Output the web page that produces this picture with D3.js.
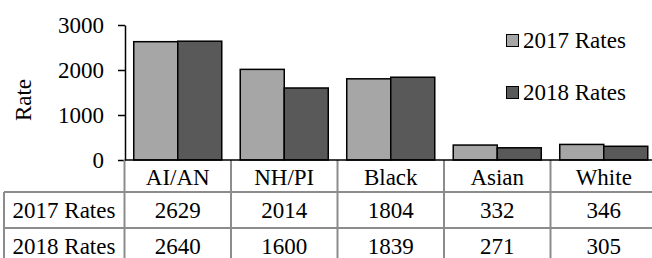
<!DOCTYPE html>
<html lang="en">
<head>
<meta charset="UTF-8">
<title>Rates 2017 vs 2018</title>
<script src="https://d3js.org/d3.v7.min.js"></script>
</head>
<body style="margin:0; background:white">
<svg width="652" height="258"></svg>
<script>
var categories = ["AI/AN", "NH/PI", "Black", "Asian", "White"];
var seriesNames = ["2017 Rates", "2018 Rates"];
var rates2017 = [2629, 2014, 1804, 332, 346];
var rates2018 = [2640, 1600, 1839, 271, 305];
var yTicks = [0, 1000, 2000, 3000];
var seriesColors = ["#a6a6a6", "#595959"];

var allRates = [rates2017, rates2018];
var svg = d3.select("svg");

function serif(sel) {
    return sel.style("font-family", "'Liberation Serif'").style("font-size", "23px").attr("fill", "#000");
}

var x = d3.scaleBand().domain(categories).range([124.5, 657]).padding(0);
var xs = d3.scaleBand().domain(seriesNames).range([0, x.bandwidth()]).paddingInner(0).paddingOuter(0.21);
var y = d3.scaleLinear().domain([0, 3000]).range([160, 25]);

// bars
seriesNames.forEach(function(s, si) {
    svg.append("g").selectAll("rect")
        .data(allRates[si])
        .enter().append("rect")
        .attr("x", function(d, i) { return x(categories[i]) + xs(s); })
        .attr("y", function(d) { return y(d); })
        .attr("width", xs.bandwidth())
        .attr("height", function(d) { return y(0) - y(d); })
        .attr("fill", seriesColors[si])
        .attr("stroke", "#000")
        .attr("stroke-width", 1.5);
});

// y axis
var yAxis = svg.append("g")
    .attr("transform", "translate(125,0)")
    .call(d3.axisLeft(y).tickValues(yTicks).tickSize(7).tickSizeOuter(0).tickPadding(14).tickFormat(d3.format("d")));
yAxis.select(".domain").attr("stroke", "#000").attr("stroke-width", 1.5);
yAxis.selectAll(".tick line").attr("stroke", "#000").attr("stroke-width", 1.5);
serif(yAxis.selectAll("text")).attr("dy", "0.34em");

serif(svg.append("text"))
    .attr("transform", "translate(31,100) rotate(-90)")
    .attr("text-anchor", "middle")
    .text("Rate");

// table
var tableColor = "#8c8c8c";
var rowTops = [160, 192, 228, 264];
var table = svg.append("g");
categories.concat([null]).forEach(function(c, i) {
    var xx = c !== null ? x(c) : x.range()[1];
    table.append("line")
        .attr("x1", xx).attr("x2", xx)
        .attr("y1", rowTops[0]).attr("y2", rowTops[3])
        .attr("stroke", tableColor).attr("stroke-width", 2);
});
table.append("line")
    .attr("x1", 4).attr("x2", 4)
    .attr("y1", rowTops[1]).attr("y2", rowTops[3])
    .attr("stroke", tableColor).attr("stroke-width", 2);
[1, 2, 3].forEach(function(r) {
    table.append("line")
        .attr("x1", 4).attr("x2", x.range()[1])
        .attr("y1", rowTops[r]).attr("y2", rowTops[r])
        .attr("stroke", tableColor).attr("stroke-width", 2);
});

serif(table.selectAll(".hdr")
    .data(categories)
    .enter().append("text")
    .attr("class", "hdr"))
    .attr("x", function(d) { return x(d) + x.bandwidth() / 2; })
    .attr("y", 185)
    .attr("text-anchor", "middle")
    .text(function(d) { return d; });

var baselines = [218, 254];
seriesNames.forEach(function(s, si) {
    serif(table.append("text"))
        .attr("x", 64)
        .attr("y", baselines[si])
        .attr("text-anchor", "middle")
        .text(s);
    serif(table.selectAll(".val" + si)
        .data(allRates[si])
        .enter().append("text")
        .attr("class", "val" + si))
        .attr("x", function(d, i) { return x(categories[i]) + x.bandwidth() / 2; })
        .attr("y", baselines[si])
        .attr("text-anchor", "middle")
        .text(function(d) { return d; });
});

// x axis line
svg.append("line")
    .attr("x1", 125).attr("x2", x.range()[1])
    .attr("y1", y(0)).attr("y2", y(0))
    .attr("stroke", "#000").attr("stroke-width", 1.5);

// legend
var legend = svg.append("g").attr("transform", "translate(506,34)");
seriesNames.forEach(function(s, si) {
    legend.append("rect")
        .attr("x", 0.5).attr("y", si * 52 + 0.5)
        .attr("width", 12).attr("height", 12)
        .attr("fill", seriesColors[si])
        .attr("stroke", "#000").attr("stroke-width", 1);
    serif(legend.append("text"))
        .attr("x", 17)
        .attr("y", si * 52 + 13.5)
        .text(s);
});
</script>
</body>
</html>
